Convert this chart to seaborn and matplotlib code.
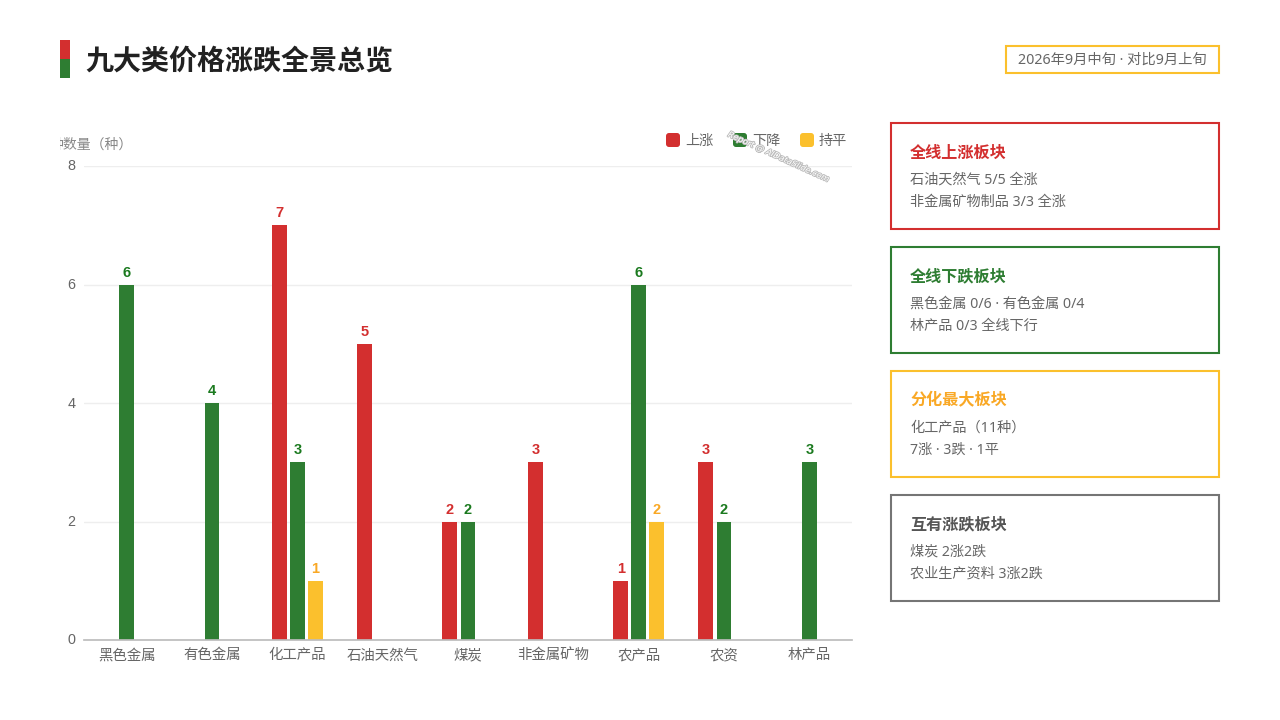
import matplotlib

matplotlib.use("Agg")
import matplotlib.pyplot as plt
import matplotlib.patheffects as pe
import pandas as pd
import seaborn as sns
from matplotlib.patches import FancyBboxPatch, Rectangle
from matplotlib.transforms import ScaledTranslation

categories = ["黑色金属", "有色金属", "化工产品", "石油天然气", "煤炭", "非金属矿物", "农产品", "农资", "林产品"]
rise = [0, 0, 7, 5, 2, 3, 1, 3, 0]
fall = [6, 4, 3, 0, 2, 0, 6, 2, 3]
flat = [0, 0, 1, 0, 0, 0, 2, 0, 0]
series_names = ["上涨", "下降", "持平"]
y_ticks = [0, 2, 4, 6, 8]

RED = "#D32F2F"
GREEN = "#2E7D32"
AMBER = "#FBC02D"
GRAY = "#757575"
MIXED = ["Noto Sans", "Noto Sans CJK SC"]

cards = [
    ("全线上涨板块", ["石油天然气 5/5 全涨", "非金属矿物制品 3/3 全涨"], RED, "#D32F2F", 122),
    ("全线下跌板块", ["黑色金属 0/6 · 有色金属 0/4", "林产品 0/3 全线下行"], GREEN, "#2E7D32", 246),
    ("分化最大板块", ["化工产品（11种）", "7涨 · 3跌 · 1平"], AMBER, "#F9A825", 370),
    ("互有涨跌板块", ["煤炭 2涨2跌", "农业生产资料 3涨2跌"], GRAY, "#555555", 494),
]

sns.set_theme(style="white")
plt.rcParams["font.family"] = ["Noto Sans CJK SC", "DejaVu Sans"]

df = pd.DataFrame({"品类": categories * 3, "类型": sum([[n] * 9 for n in series_names], []), "数量": rise + fall + flat})

fig = plt.figure(figsize=(12.8, 7.2), dpi=100, facecolor="white")
ax = fig.add_axes([84 / 1280, 1 - 640 / 720, 768 / 1280, 474 / 720])

sns.barplot(
    data=df,
    x="品类",
    y="数量",
    hue="类型",
    hue_order=series_names,
    palette=[RED, GREEN, AMBER],
    saturation=1,
    width=0.633,
    gap=0.167,
    linewidth=0,
    legend=False,
    ax=ax,
)

label_colors = [RED, "#1B7A1F", "#F9A825"]
for bars, values, color in zip(ax.containers, [rise, fall, flat], label_colors):
    ax.bar_label(
        bars,
        labels=[str(v) if v else "" for v in values],
        padding=3.5,
        color=color,
        fontsize=10.5,
        fontweight="bold",
        family="Liberation Sans",
    )

ax.set_xlim(-0.5, 8.5)
ax.set_ylim(0, 8)
ax.set_yticks(y_ticks)
ax.set_xlabel("")
ax.set_ylabel("")
ax.grid(axis="y", color="#EEEEEE", linewidth=1)
ax.set_axisbelow(True)
sns.despine(ax=ax, left=True)
ax.spines["bottom"].set_color("#BDBDBD")
ax.tick_params(axis="x", length=0, labelsize=10.4, labelcolor="#666666", pad=6)
ax.tick_params(axis="y", length=0, labelsize=10.4, labelcolor="#666666", pad=6)
for t in ax.get_yticklabels():
    t.set_family("Liberation Sans")
    t.set_transform(t.get_transform() + ScaledTranslation(0, 1 / 100, fig.dpi_scale_trans))

# overlay in pixel coordinates for header, legend and cards
ov = fig.add_axes([0, 0, 1, 1], facecolor="none")
ov.set_xlim(0, 1280)
ov.set_ylim(720, 0)
ov.axis("off")

ov.add_patch(Rectangle((60, 40), 10, 19, color=RED, lw=0))
ov.add_patch(Rectangle((60, 59), 10, 19, color=GREEN, lw=0))
ov.text(85.5, 62, "九大类价格涨跌全景总览", fontsize=20.2, fontweight="bold", color="#212121", va="center")

ov.add_patch(Rectangle((1006, 46), 213, 27, fill=False, edgecolor=AMBER, lw=1.5))
ov.text(1112.5, 60.5, "2026年9月中旬 · 对比9月上旬", fontsize=10.3, color="#666666", ha="center", va="center", family=MIXED)

# y axis title is cut off at the left edge in the reference
ytitle = ov.text(133, 144.5, "种数量（种）", fontsize=10, color="#888888", ha="right", va="center", clip_on=True)
ytitle.set_clip_path(Rectangle((60, 130), 80, 30, transform=ov.transData))

for x, name, color in zip([666, 733, 800], series_names, [RED, GREEN, AMBER]):
    ov.add_patch(
        FancyBboxPatch(
            (x + 2, 135), 10, 10, boxstyle="round,pad=2,rounding_size=3", facecolor=color, edgecolor="none"
        )
    )
    ov.text(x + 19, 140.5, name, fontsize=10.2, color="#666666", va="center")

ov.text(
    779,
    157,
    "Report @ AIDataSlide.com",
    fontsize=6,
    style="italic",
    color="white",
    rotation=-24.5,
    ha="center",
    va="center",
    family="DejaVu Sans",
    path_effects=[pe.withStroke(linewidth=1.3, foreground="#BDBDBD")],
)

for title, lines, edge, title_color, top in cards:
    ov.add_patch(Rectangle((891, top + 1), 328, 106, fill=False, edgecolor=edge, lw=1.5))
    ov.text(910, top + 30.5, title, fontsize=11.6, fontweight="bold", color=title_color, va="center")
    ov.text(910, top + 58, lines[0], fontsize=10.2, color="#666666", va="center", family=MIXED)
    ov.text(910, top + 80, lines[1], fontsize=10.2, color="#666666", va="center", family=MIXED)

fig.savefig("out.png", dpi=100)
